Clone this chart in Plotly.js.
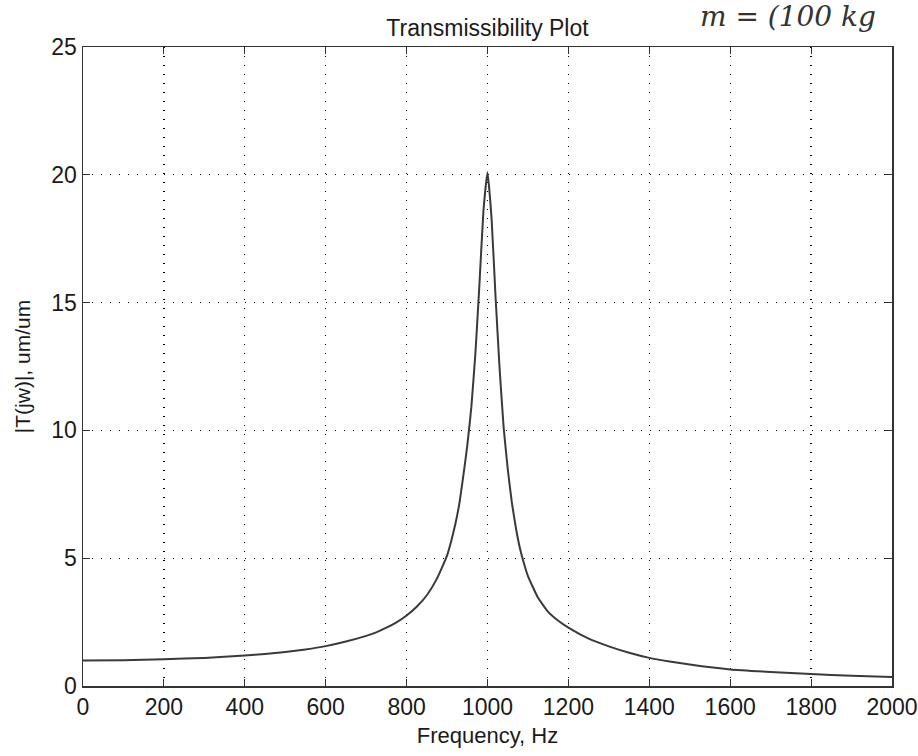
<!DOCTYPE html>
<html>
<head>
<meta charset="utf-8">
<script src="https://cdn.plot.ly/plotly-3.0.1.min.js"></script>
<style>html,body{margin:0;padding:0;background:#fff;}#chart{width:918px;height:756px;}</style>
</head>
<body>
<div id="chart"></div>
<script>
// Frequency (Hz) and transmissibility magnitude
const frequency = [0, 100, 200, 300, 400, 450, 500, 550, 600, 650, 700, 725, 750, 775, 800, 825, 850, 875, 900, 910, 920, 930, 940, 950, 960, 970, 980, 990, 1000,
  1010, 1020, 1030, 1040, 1050, 1060, 1070, 1080, 1090, 1100, 1125, 1150, 1175, 1200, 1250, 1300, 1350, 1400, 1450, 1500, 1600, 1700, 1800, 1900, 2000];
const transmissibility = [1.00, 1.01, 1.05, 1.10, 1.19, 1.25, 1.33, 1.43, 1.56, 1.74, 1.96, 2.10, 2.28, 2.49, 2.76, 3.10, 3.55, 4.20, 5.10, 5.65, 6.30, 7.10, 8.20, 9.40, 10.9, 13.0, 15.7, 18.6, 20.1,
  18.3, 15.2, 12.4, 10.1, 8.5, 7.2, 6.2, 5.4, 4.8, 4.3, 3.45, 2.90, 2.55, 2.28, 1.85, 1.55, 1.30, 1.10, 0.96, 0.84, 0.65, 0.55, 0.47, 0.40, 0.35];
const xTicks = [0, 200, 400, 600, 800, 1000, 1200, 1400, 1600, 1800, 2000];
const yTicks = [0, 5, 10, 15, 20, 25];

const font = 'Liberation Sans, Arial, sans-serif';
const axisCommon = {
  showline: true, linecolor: '#333', linewidth: 1.5, mirror: 'ticks',
  ticks: 'inside', ticklen: 7, tickcolor: '#333', tickwidth: 1,
  showgrid: true, gridcolor: '#000', gridwidth: 1.3, griddash: '1px,8px',
  zeroline: false, tickfont: {family: font, size: 23, color: '#1a1a1a'}
};

const trace = {
  x: frequency, y: transmissibility, type: 'scatter', mode: 'lines',
  line: {color: '#3a3a3a', width: 2, shape: 'spline', smoothing: 0.4}, hoverinfo: 'skip'
};

const layout = {
  width: 918, height: 756,
  margin: {l: 83, r: 26, t: 47, b: 70},
  paper_bgcolor: '#fff', plot_bgcolor: '#fff',
  showlegend: false,
  title: {text: 'Transmissibility Plot', font: {family: font, size: 23, color: '#1a1a1a'},
    x: 0.5, xref: 'paper', y: 0.963, yref: 'container', yanchor: 'middle'},
  xaxis: Object.assign({}, axisCommon, {
    range: [0, 2000], tickvals: xTicks, ticktext: xTicks.map(String),
    title: {text: 'Frequency, Hz', font: {family: font, size: 22, color: '#1a1a1a'}, standoff: 8}
  }),
  yaxis: Object.assign({}, axisCommon, {
    range: [0, 25], tickvals: yTicks, ticktext: yTicks.map(String),
    title: {text: '|T(jw)|, um/um', font: {family: font, size: 21, color: '#1a1a1a'}, standoff: 15}
  }),
  annotations: [{
    text: 'm = (100 kg', xref: 'paper', yref: 'paper', x: 0.76, y: 1.048,
    xanchor: 'left', yanchor: 'middle', showarrow: false,
    font: {family: 'DejaVu Serif, serif', size: 28, color: '#333', style: 'italic'}
  }]
};

Plotly.newPlot('chart', [trace], layout, {displayModeBar: false, staticPlot: true});
</script>
</body>
</html>
